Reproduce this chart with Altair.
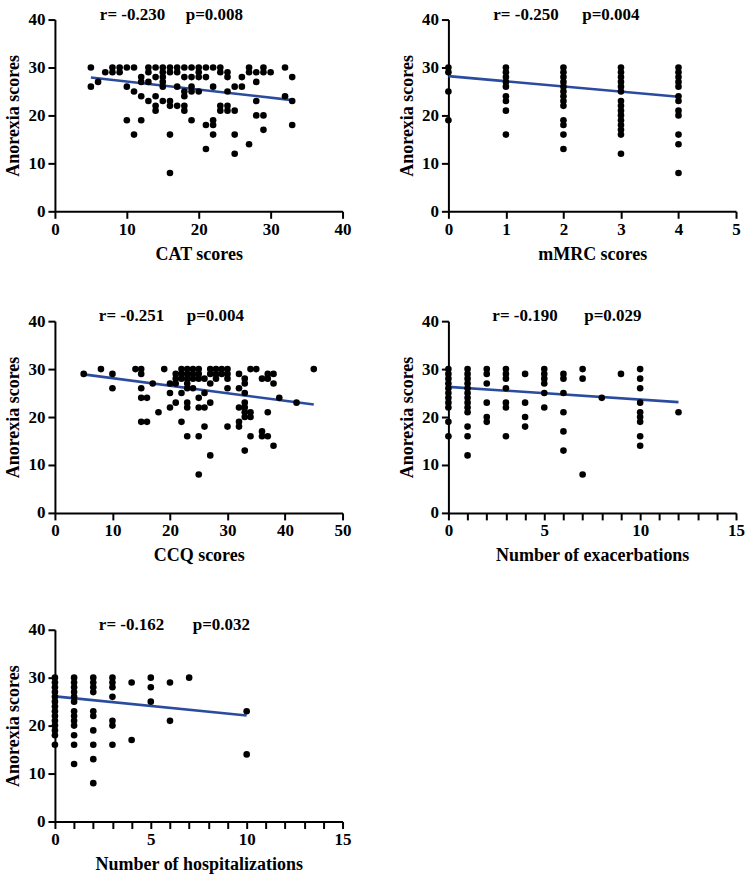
import altair as alt
import pandas as pd

FONT = "Liberation Serif"
BLUE = "#2B4C9E"

# ---- Panel 1: CAT scores ----
cat_x = [5, 6, 7, 8, 9, 10, 11, 12, 13, 14, 15, 16, 17, 18, 19, 20, 21, 22, 23, 24, 25, 26, 27, 28, 29, 30, 32, 33]
cat_y = [[30, 26], [27], [29], [30, 29], [30, 29], [30, 26, 19], [30, 25, 16], [28, 27, 24, 19],
         [30, 29, 27, 23], [30, 28, 24, 22, 21], [30, 29, 28, 27, 26, 23], [30, 29, 23, 22, 16, 8],
         [30, 29, 26, 22], [30, 28, 25, 24, 22, 21], [30, 28, 26, 25, 19], [30, 29, 28, 25],
         [30, 28, 18, 13], [30, 26, 19, 18, 16], [30, 29, 22, 21], [29, 28, 25, 22, 21],
         [26, 21, 16, 12], [28, 26], [30, 29, 14], [29, 27, 23, 20], [30, 29, 20, 17], [29],
         [30, 24], [28, 23, 18]]
cat_line_x = [5, 33]
cat_line_y = [27.9, 23.2]

# ---- Panel 2: mMRC scores ----
mmrc_x = [0, 1, 2, 3, 4]
mmrc_y = [[30, 29, 25, 19],
          [30, 29, 28, 27, 26, 24, 23, 21, 16],
          [30, 29, 28, 27, 26, 25, 24, 23, 22, 19, 18, 16, 13],
          [30, 29, 28, 27, 26, 25, 23, 22, 21, 20, 19, 18, 17, 16, 12],
          [30, 29, 28, 27, 26, 24, 23, 21, 20, 16, 14, 8]]
mmrc_line_x = [0, 4]
mmrc_line_y = [28.2, 23.9]

# ---- Panel 3: CCQ scores ----
ccq_x = [5, 8, 10, 14, 15, 16, 17, 18, 19, 20, 21, 22, 23, 24, 25, 26, 27, 28, 29, 30, 32, 33, 34, 35, 36, 37, 38, 39, 42, 45]
ccq_y = [[29], [30], [29, 26], [30], [30, 29, 26, 24, 19], [24, 19], [27], [21], [30],
         [27, 25, 22], [29, 28, 27, 23], [30, 29, 28, 25, 19], [30, 29, 28, 27, 26, 23, 22, 16],
         [30, 29, 28, 26], [30, 29, 28, 24, 22, 16, 8], [28, 25, 22, 18], [30, 29, 27, 23, 12],
         [30, 29, 28], [30, 29], [30, 29, 28, 26, 18], [29, 26, 22, 19, 18],
         [28, 27, 25, 23, 22, 21, 20, 13], [30, 21, 20, 16], [30], [28, 17, 16],
         [29, 28, 21, 16], [29, 27, 14], [24], [23], [30]]
ccq_line_x = [5, 45]
ccq_line_y = [28.9, 22.6]

# ---- Panel 4: Number of exacerbations ----
exa_x = [0, 1, 2, 3, 4, 5, 6, 7, 8, 9, 10, 12]
exa_y = [[30, 29, 28, 27, 26, 25, 24, 23, 22, 19, 16],
         [30, 29, 28, 27, 26, 25, 24, 23, 22, 21, 18, 16, 12],
         [30, 29, 27, 23, 20, 19],
         [30, 29, 28, 26, 23, 22, 16],
         [29, 23, 20, 18],
         [30, 29, 28, 27, 25, 22],
         [29, 28, 25, 21, 17, 13],
         [30, 28, 8],
         [24],
         [29],
         [30, 28, 26, 23, 21, 20, 19, 16, 14],
         [21]]
exa_line_x = [0, 12]
exa_line_y = [26.3, 23.1]

# ---- Panel 5: Number of hospitalizations ----
hos_x = [0, 1, 2, 3, 4, 5, 6, 7, 10]
hos_y = [[30, 29, 28, 27, 26, 25, 24, 23, 22, 21, 20, 19, 18, 16],
         [30, 29, 28, 27, 26, 25, 23, 22, 21, 20, 18, 16, 12],
         [30, 29, 28, 27, 23, 22, 19, 16, 13, 8],
         [30, 29, 28, 26, 21, 20, 16],
         [29, 17],
         [30, 28, 25],
         [29, 21],
         [30],
         [23, 14]]
hos_line_x = [0, 10]
hos_line_y = [26.1, 22.1]

r_labels = ["r= -0.230", "r= -0.250", "r= -0.251", "r= -0.190", "r= -0.162"]
p_labels = ["p=0.008", "p=0.004", "p=0.004", "p=0.029", "p=0.032"]
x_titles = ["CAT scores", "mMRC scores", "CCQ scores", "Number of exacerbations", "Number of hospitalizations"]
y_title = "Anorexia scores"


def flatten(xs, ygroups):
    rows = []
    for xv, ys in zip(xs, ygroups):
        for yv in ys:
            rows.append({"x": xv, "y": yv})
    return pd.DataFrame(rows)


def panel(xs, ygroups, lx, ly, idx, x_max, x_step, label_step, r_dx, p_dx):
    df = flatten(xs, ygroups)
    ldf = pd.DataFrame({"x": lx, "y": ly})
    xscale = alt.Scale(domain=[0, x_max], nice=False, zero=True)
    yscale = alt.Scale(domain=[0, 40], nice=False)
    xaxis = alt.Axis(
        values=list(range(0, x_max + 1, x_step)),
        labelExpr=f"datum.value % {label_step} == 0 ? datum.label : ''",
        title=x_titles[idx],
    )
    yaxis = alt.Axis(values=[0, 10, 20, 30, 40], title=y_title)
    line = alt.Chart(ldf).mark_line(color=BLUE, strokeWidth=2.6).encode(
        x=alt.X("x:Q", scale=xscale, axis=xaxis),
        y=alt.Y("y:Q", scale=yscale, axis=yaxis),
    )
    pts = alt.Chart(df).mark_circle(size=44, color="black", opacity=1).encode(
        x=alt.X("x:Q", scale=xscale, axis=xaxis),
        y=alt.Y("y:Q", scale=yscale, axis=yaxis),
    )
    ann_df = pd.DataFrame({"r": [r_labels[idx]], "p": [p_labels[idx]]})
    r_txt = alt.Chart(ann_df).mark_text(
        font=FONT, fontWeight="bold", fontSize=17, align="left", baseline="middle", color="black"
    ).encode(x=alt.value(r_dx), y=alt.value(-5), text="r:N")
    p_txt = alt.Chart(ann_df).mark_text(
        font=FONT, fontWeight="bold", fontSize=17, align="left", baseline="middle", color="black"
    ).encode(x=alt.value(p_dx), y=alt.value(-5), text="p:N")
    return alt.layer(line, pts, r_txt, p_txt).properties(width=288, height=192)


p1 = panel(cat_x, cat_y, cat_line_x, cat_line_y, 0, 40, 10, 10, 45, 131)
p2 = panel(mmrc_x, mmrc_y, mmrc_line_x, mmrc_line_y, 1, 5, 1, 1, 45, 134)
p3 = panel(ccq_x, ccq_y, ccq_line_x, ccq_line_y, 2, 50, 10, 10, 44, 132)
p4 = panel(exa_x, exa_y, exa_line_x, exa_line_y, 3, 15, 1, 5, 44, 136)
p5 = panel(hos_x, hos_y, hos_line_x, hos_line_y, 4, 15, 1, 5, 44, 138)

top = alt.vconcat(
    alt.hconcat(p1, p2, spacing=47),
    alt.hconcat(p3, p4, spacing=47),
    spacing=44,
)
chart = alt.vconcat(top, p5, spacing=51).properties(
    padding={"left": 5, "top": 5, "right": 5, "bottom": 5}
).configure_view(stroke=None).configure_axis(
    grid=False,
    domainColor="black",
    domainWidth=2,
    tickColor="black",
    tickWidth=2,
    tickSize=7,
    labelFont=FONT,
    labelFontWeight="bold",
    labelFontSize=17,
    labelColor="black",
    labelPadding=3,
    labelFlush=False,
    titleFont=FONT,
    titleFontWeight="bold",
    titleFontSize=18,
    titleColor="black",
).configure_axisX(titlePadding=8).configure_axisY(titlePadding=5)

chart.save("out.html", embed_options={"renderer": "svg", "actions": False})
